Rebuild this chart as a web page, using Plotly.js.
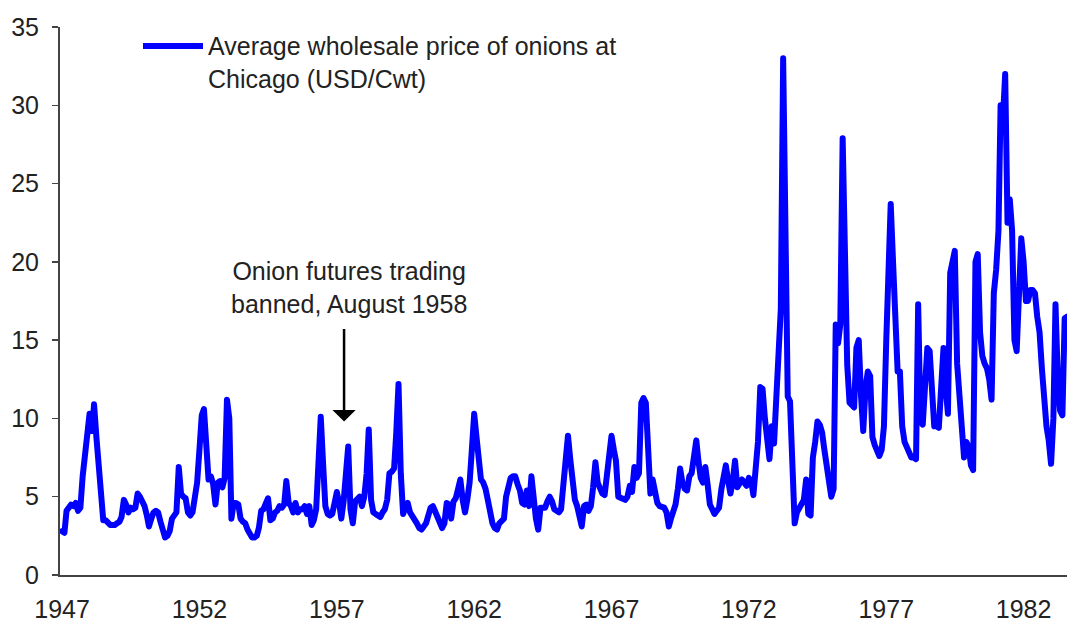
<!DOCTYPE html>
<html>
<head>
<meta charset="utf-8">
<script src="https://cdn.plot.ly/plotly-3.0.1.min.js"></script>
<style>
  html, body { margin: 0; padding: 0; background: #fff; }
  #chart { width: 1067px; height: 623px; }
  #chart path.js-line { stroke-linejoin: round; stroke-linecap: round; }
</style>
</head>
<body>
<div id="chart"></div>
<script>
// Monthly average wholesale price of onions at Chicago (USD/Cwt), from Jan 1947
const startYear = 1947;
const prices = [
  2.8, 2.7, 4.1, 4.3, 4.5, 4.4, 4.6, 4.1, 4.3, 6.3, 8.0, 9.5,         // 1947
  10.3, 9.2, 10.9, 8.8, 6.9, 5.0, 3.5, 3.5, 3.3, 3.2, 3.2, 3.2,       // 1948
  3.3, 3.4, 3.7, 4.8, 4.5, 4.0, 4.3, 4.2, 4.3, 5.2, 5.0, 4.7,         // 1949
  4.4, 3.8, 3.1, 3.6, 4.0, 4.1, 4.0, 3.4, 2.9, 2.4, 2.5, 2.8,         // 1950
  3.6, 3.9, 4.0, 6.9, 5.2, 5.0, 4.9, 4.0, 3.8, 4.0, 4.8, 5.9,         // 1951
  8.0, 10.2, 10.6, 8.3, 6.1, 6.3, 5.8, 4.5, 5.9, 6.0, 5.6, 6.2,       // 1952
  11.2, 10.0, 3.6, 4.6, 4.6, 4.5, 3.6, 3.4, 3.3, 2.9, 2.6, 2.4,       // 1953
  2.4, 2.5, 3.0, 4.1, 4.2, 4.5, 4.9, 3.5, 3.6, 4.0, 4.1, 4.4,         // 1954
  4.3, 4.5, 6.0, 4.6, 4.4, 4.0, 4.6, 4.0, 4.2, 4.2, 4.4, 3.9,         // 1955
  4.4, 3.2, 3.5, 4.2, 7.5, 10.1, 7.2, 4.4, 3.9, 3.8, 3.9, 4.7,        // 1956
  5.3, 4.6, 3.6, 4.7, 6.0, 8.2, 4.2, 3.3, 4.7, 4.8, 5.0, 4.4,         // 1957
  5.0, 6.5, 9.3, 4.8, 4.0, 3.9, 3.8, 3.7, 4.0, 4.2, 4.8, 6.5,         // 1958
  6.6, 6.8, 9.0, 12.2, 6.5, 3.9, 4.3, 4.6, 4.0, 3.8, 3.5, 3.3,        // 1959
  3.0, 2.9, 3.1, 3.3, 3.8, 4.3, 4.4, 4.1, 3.8, 3.3, 3.0, 3.3,         // 1960
  4.6, 4.5, 3.6, 4.7, 4.9, 5.5, 6.1, 4.8, 4.0, 4.8, 5.9, 8.0,         // 1961
  10.3, 8.8, 7.0, 6.1, 5.9, 5.5, 4.8, 4.0, 3.3, 3.0, 2.9, 3.3,        // 1962
  3.5, 3.6, 5.0, 5.6, 6.2, 6.3, 6.3, 5.8, 5.4, 4.6, 4.5, 5.4,         // 1963
  4.4, 6.3, 4.4, 3.6, 2.9, 4.3, 4.3, 4.3, 4.7, 5.0, 4.7, 4.2,         // 1964
  4.1, 4.0, 4.2, 5.5, 7.5, 8.9, 7.4, 5.5, 4.8, 4.4, 3.6, 3.1,         // 1965
  4.4, 4.5, 4.1, 4.4, 5.6, 7.2, 5.9, 5.5, 5.2, 5.1, 6.5, 7.4,         // 1966
  8.9, 8.0, 7.3, 5.0, 4.9, 4.8, 4.8, 5.0, 5.7, 5.3, 6.9, 6.2,         // 1967
  6.5, 11.0, 11.3, 11.0, 6.8, 5.2, 6.1, 5.3, 4.6, 4.4, 4.3, 4.3,      // 1968
  4.0, 3.1, 3.6, 4.2, 4.5, 5.5, 6.8, 5.9, 5.5, 5.4, 6.3, 6.5,         // 1969
  7.5, 8.6, 7.3, 6.2, 5.9, 6.9, 5.8, 4.5, 4.2, 3.9, 4.1, 4.3,         // 1970
  5.5, 6.4, 7.0, 6.0, 5.2, 6.0, 7.3, 5.6, 5.8, 6.1, 5.9, 5.7,         // 1971
  6.2, 6.0, 5.1, 6.4, 8.5, 12.0, 11.9, 10.0, 8.5, 7.4, 9.5, 8.4,      // 1972
  11.4, 15.5, 17.0, 33.0, 17.5, 11.4, 11.1, 7.0, 3.3, 4.0, 4.3, 4.4,  // 1973
  4.8, 6.1, 3.9, 3.8, 7.5, 8.5, 9.8, 9.6, 9.1, 8.0, 6.8, 5.8,         // 1974
  5.0, 5.5, 16.0, 14.8, 16.0, 27.9, 19.0, 13.4, 11.0, 10.8, 10.7, 14.5, // 1975
  15.0, 11.4, 9.2, 12.0, 13.0, 12.7, 8.8, 8.3, 8.0, 7.6, 8.0, 9.5,    // 1976
  15.0, 20.0, 23.7, 20.0, 16.0, 13.0, 13.0, 9.5, 8.5, 8.1, 7.8, 7.5,  // 1977
  7.5, 7.4, 17.3, 9.8, 9.6, 12.0, 14.5, 14.3, 11.0, 9.5, 9.5, 9.4,    // 1978
  12.0, 14.5, 12.0, 10.3, 19.3, 20.0, 20.7, 13.5, 11.0, 9.1, 7.5, 8.5, // 1979
  8.2, 7.0, 6.7, 20.0, 20.5, 15.5, 14.0, 13.5, 13.2, 12.5, 11.2, 18.0, // 1980
  19.5, 22.0, 30.0, 29.1, 32.0, 22.5, 24.0, 22.0, 15.0, 14.3, 17.5, 21.5, // 1981
  20.0, 17.5, 17.5, 18.2, 18.2, 18.0, 16.5, 15.5, 13.2, 10.8, 9.5, 8.6, // 1982
  7.1, 10.0, 17.3, 12.5, 10.5, 10.2, 16.4, 16.5                       // 1983
];
const tickYears = [1947, 1952, 1957, 1962, 1967, 1972, 1977, 1982];
const seriesName = 'Average wholesale price of onions at<br>Chicago (USD/Cwt)';
const banNote = 'Onion futures trading<br>banned, August 1958';

// month index -> 'YYYY-MM-01'
function monthDate(i) {
    const y = startYear + Math.floor(i / 12);
    const m = (i % 12) + 1;
    return y + '-' + String(m).padStart(2, '0') + '-01';
}

const lineColor = '#0000FF';
const axisColor = '#444444';
const textColor = '#222222';

const trace = {
    name: seriesName,
    x: prices.map((v, i) => monthDate(i)),
    y: prices,
    type: 'scatter',
    mode: 'lines',
    line: { color: lineColor, width: 6 },
    hoverinfo: 'x+y'
};

const layout = {
    width: 1067,
    height: 623,
    margin: { l: 60, r: 0, t: 27, b: 48 },
    paper_bgcolor: '#ffffff',
    plot_bgcolor: '#ffffff',
    showlegend: false,
    font: { family: 'Liberation Sans, Arial, sans-serif', size: 25, color: textColor },
    xaxis: {
        type: 'date',
        range: ['1946-12-04', '1983-08-01'],
        tickmode: 'array',
        tickvals: tickYears.map(y => y + '-01-01'),
        ticktext: tickYears.map(String),
        ticks: '',
        showgrid: false,
        zeroline: false,
        showline: true,
        linecolor: axisColor,
        linewidth: 2,
        ticklabelstandoff: 11
    },
    yaxis: {
        range: [0, 35],
        tick0: 0,
        dtick: 5,
        ticks: 'outside',
        ticklen: 6,
        tickwidth: 1.5,
        tickcolor: axisColor,
        showgrid: false,
        zeroline: false,
        showline: true,
        linecolor: axisColor,
        linewidth: 2,
        ticklabelstandoff: 8
    },
    shapes: [
        // legend sample line
        {
            type: 'line', xref: 'paper', yref: 'paper',
            x0: 0.0824, x1: 0.142, y0: 0.9653, y1: 0.9653,
            line: { color: lineColor, width: 6 }
        }
    ],
    annotations: [
        {
            xref: 'paper', yref: 'paper', x: 0.145, y: 0.9352,
            xanchor: 'left', yanchor: 'middle', align: 'left',
            text: seriesName, showarrow: false
        },
        {
            xref: 'paper', yref: 'paper', x: 0.287, y: 0.5246,
            xanchor: 'center', yanchor: 'middle', align: 'center',
            text: banNote, showarrow: false
        },
        {
            x: '1957-04-07', y: 9.8, text: '',
            showarrow: true, arrowhead: 1, arrowsize: 1.55, arrowwidth: 2.5,
            arrowcolor: '#000000', ax: 0, ay: -94, standoff: 0
        }
    ]
};

const config = { displayModeBar: false, staticPlot: true };

Plotly.newPlot('chart', [trace], layout, config);
</script>
</body>
</html>
